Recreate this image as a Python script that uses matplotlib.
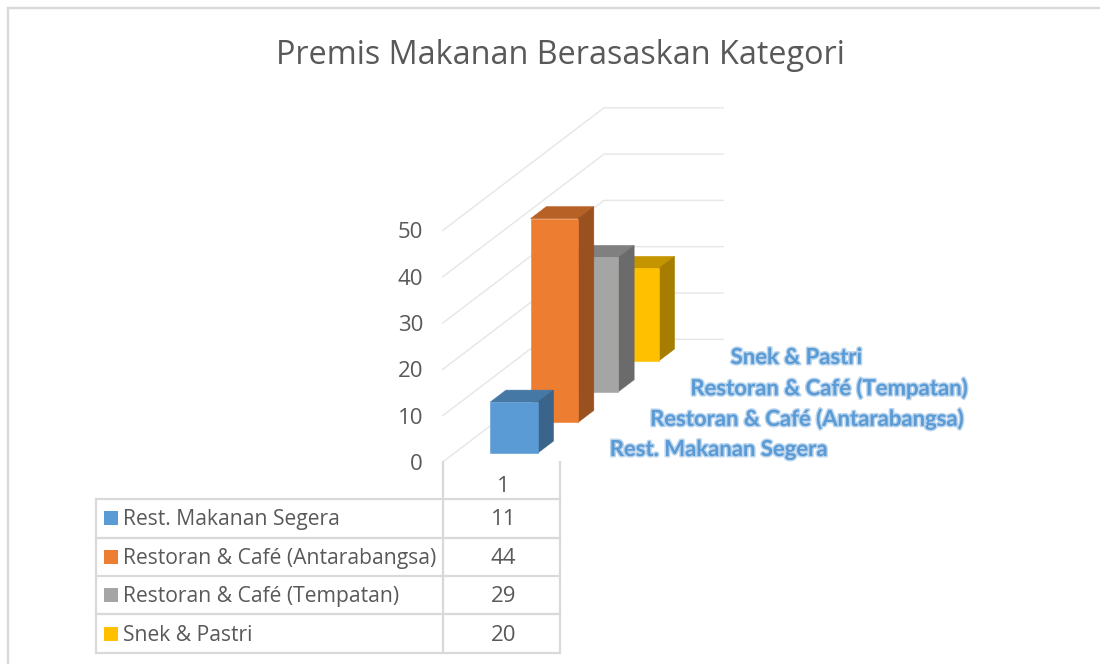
import matplotlib
matplotlib.use("Agg")
import matplotlib.pyplot as plt
from matplotlib.patches import Polygon, Rectangle
import matplotlib.patheffects as pe

series_names = ["Rest. Makanan Segera", "Restoran & Café (Antarabangsa)",
                "Restoran & Café (Tempatan)", "Snek & Pastri"]
series_values = [11, 44, 29, 20]
category_label = "1"
value_ticks = [0, 10, 20, 30, 40, 50]
title = "Premis Makanan Berasaskan Kategori"

front_colors = ["#5B9BD5", "#ED7D31", "#A5A5A5", "#FFC000"]
side_colors = ["#3A6489", "#9A5120", "#6B6B6B", "#A67D00"]
top_colors = ["#4678A6", "#B86127", "#808080", "#C59500"]

FONT = "Open Sans"
LABEL_FONT = "Lato"
TEXT = "#595959"
GRID = "#E6E6E6"
TABLE = "#D9D9D9"
BLUE = "#5B9BD5"

# projection of the 3D chart box onto the picture
X0, Y0 = 442.7, 462.0       # front-left floor corner
PX_PER_UNIT = 4.63          # vertical pixels per value unit
DEPTH_DX, DEPTH_DY = 161.3, -122.7   # full depth of the box
CAT_W = 119.0               # width of the single category
BAR_W = 47.5
GAP_FRAC = 0.293            # gap in front of a bar, fraction of a series slot
BAR_FRAC = 0.39             # bar depth, fraction of a series slot
N = len(series_names)


def proj(x, depth, v):
    """x in pixels along the category, depth in series slots, v in data units."""
    f = depth / N
    return (X0 + x + DEPTH_DX * f, Y0 + DEPTH_DY * f - v * PX_PER_UNIT)


fig = plt.figure(figsize=(11, 6.64), dpi=100)
ax = fig.add_axes([0, 0, 1, 1])
ax.set_xlim(0, 1100)
ax.set_ylim(664, 0)
ax.axis("off")

# outer frame: left and top edges only
ax.plot([7.5, 7.5, 1100], [664, 8, 8], color=TABLE, lw=1.7, zorder=1,
        solid_joinstyle="miter")

ax.text(560, 55, title, ha="center", va="center", fontsize=23.3,
        color=TEXT, family=FONT)

# gridlines on side wall and back wall
for t in value_ticks:
    a = proj(0, 0, t)
    b = proj(0, N, t)
    c = proj(CAT_W, N, t)
    ax.plot([a[0], b[0], c[0]], [a[1], b[1], c[1]], color=GRID, lw=1.0, zorder=2)
    ax.text(423, a[1] + 2.5, str(t), ha="right", va="center", fontsize=16,
            color=TEXT, family=FONT)

# bars, back to front
pad = (CAT_W - BAR_W) / 2
for i in reversed(range(N)):
    v = series_values[i]
    d0 = i + GAP_FRAC
    d1 = d0 + BAR_FRAC
    x0, x1 = pad, pad + BAR_W
    z = 3 + N - i
    ax.add_patch(Polygon([proj(x0, d0, v), proj(x1, d0, v), proj(x1, d1, v), proj(x0, d1, v)],
                         closed=True, fc=top_colors[i], ec=top_colors[i], lw=0.4, zorder=z))
    ax.add_patch(Polygon([proj(x1, d0, 0), proj(x1, d1, 0), proj(x1, d1, v), proj(x1, d0, v)],
                         closed=True, fc=side_colors[i], ec=side_colors[i], lw=0.4, zorder=z))
    ax.add_patch(Polygon([proj(x0, d0, 0), proj(x1, d0, 0), proj(x1, d0, v), proj(x0, d0, v)],
                         closed=True, fc=front_colors[i], ec=front_colors[i], lw=0.4, zorder=z))

# series-axis labels, stepped along the depth axis
glow = [pe.withStroke(linewidth=2.2, foreground="#A9CBE9", alpha=0.8)]
for i, name in enumerate(series_names):
    x, y = proj(CAT_W + 48, i, 0)
    ax.text(x, y - 12.5, name, ha="left", va="center", fontsize=15.9, fontweight="bold",
            color=BLUE, family=LABEL_FONT, path_effects=glow, zorder=20)

# data table
row_y = [499, 537.7, 576.3, 614.3, 653.3]
left, mid, right = 96, 443.3, 560
num_x = (mid + right) / 2 + 2
for y in row_y:
    ax.plot([left, right], [y, y], color=TABLE, lw=1.6, zorder=2)
ax.plot([left, left], [row_y[0], row_y[-1]], color=TABLE, lw=1.6, zorder=2)
for x in (mid, right):
    ax.plot([x, x], [Y0, row_y[-1]], color=TABLE, lw=1.6, zorder=2)
ax.text(num_x, 486, category_label, ha="center", va="center",
        fontsize=16, color=TEXT, family=FONT)
for i, name in enumerate(series_names):
    yc = (row_y[i] + row_y[i + 1]) / 2
    ax.add_patch(Rectangle((103.5, yc - 7), 14, 14, fc=front_colors[i], ec="none"))
    ax.text(123, yc + 1.5, name, ha="left", va="center", fontsize=15.2, color=TEXT, family=FONT)
    ax.text(num_x, yc + 1.5, str(series_values[i]), ha="center", va="center",
            fontsize=16, color=TEXT, family=FONT)

fig.savefig("out.png", dpi=100, facecolor="white")
